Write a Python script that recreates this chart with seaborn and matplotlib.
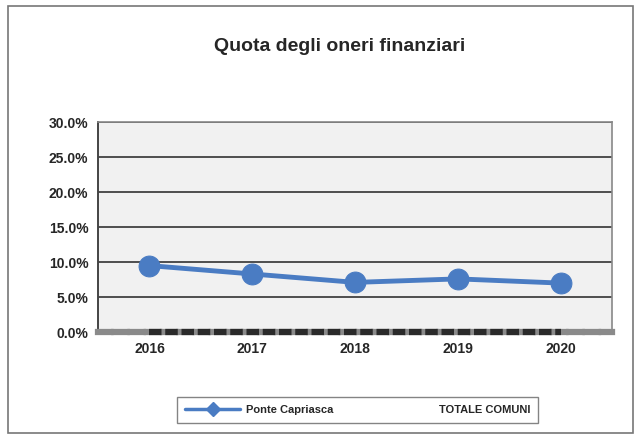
import numpy as np
import pandas as pd
import matplotlib
matplotlib.use('Agg')
import matplotlib.pyplot as plt
from matplotlib.lines import Line2D
from matplotlib.patches import Rectangle
import seaborn as sns

# Dati
anni = ['2016', '2017', '2018', '2019', '2020']
ponte_capriasca = [0.095, 0.083, 0.071, 0.076, 0.070]
totale_comuni = [0.0, 0.0, 0.0, 0.0, 0.0]
tick_y = [0.0, 0.05, 0.10, 0.15, 0.20, 0.25, 0.30]

df = pd.DataFrame({'anno': anni, 'Ponte Capriasca': ponte_capriasca,
                   'TOTALE COMUNI': totale_comuni})

sns.set_style('white')
plt.rcParams['font.family'] = ['Liberation Sans Narrow', 'Liberation Sans', 'DejaVu Sans']

fig = plt.figure(figsize=(6.41, 4.41), dpi=100)
ax = fig.add_axes([0.153, 0.247, 0.802, 0.476])
ax.set_facecolor('#f1f1f1')

blu = '#4a7cc3'
sns.lineplot(data=df, x='anno', y='TOTALE COMUNI', ax=ax, color='#2a2a2a',
             linewidth=4.5, linestyle=(0, (2.0, 0.6)), zorder=3, sort=False)
ax.lines[-1].set_clip_on(False)
sns.lineplot(data=df, x='anno', y='Ponte Capriasca', ax=ax, color=blu,
             linewidth=3.5, marker='o', markersize=15, markeredgecolor=blu,
             zorder=4, sort=False)

ax.set_xlim(-0.5, 4.5)
ax.set_ylim(0, 0.30)
ax.set_yticks(tick_y)
ax.set_yticklabels([f'{v*100:.1f}%' for v in tick_y], fontsize=10, fontweight='bold')
ax.set_xticks(range(len(anni)))
ax.set_xticklabels(anni, fontsize=10, fontweight='bold')
ax.tick_params(axis='both', length=0, pad=7)
ax.yaxis.grid(True, color='#333333', linewidth=1.2)
ax.set_axisbelow(True)
ax.set_xlabel('')
ax.set_ylabel('')
for s in ['top', 'right']:
    ax.spines[s].set_color('#888888')
    ax.spines[s].set_linewidth(1.2)
ax.spines['left'].set_color('#444444')
ax.spines['left'].set_linewidth(1.4)
ax.spines['bottom'].set_color('#8a8a8a')
ax.spines['bottom'].set_linewidth(4.5)
ax.spines['bottom'].set_linestyle((0, (2.0, 0.6)))

fig.text(0.53, 0.895, 'Quota degli oneri finanziari', ha='center', va='center',
         fontsize=14, fontweight='bold')

# cornice del grafico
fig.patches.append(Rectangle((0.012, 0.018), 0.975, 0.968, transform=fig.transFigure,
                             fill=False, edgecolor='#777777', linewidth=1.2))

handles = [Line2D([], [], color=blu, linewidth=2.5, marker='D', markersize=7),
           Line2D([], [], color='none')]
leg = fig.legend(handles, ['Ponte Capriasca', 'TOTALE COMUNI'], loc='center',
                 bbox_to_anchor=(0.558, 0.07), ncol=2, frameon=True, fancybox=False,
                 edgecolor='#666666', fontsize=8, handlelength=5, columnspacing=4,
                 handletextpad=0.5, borderpad=0.7)
for t in leg.get_texts():
    t.set_fontweight('bold')

fig.savefig('out.png', dpi=100)
